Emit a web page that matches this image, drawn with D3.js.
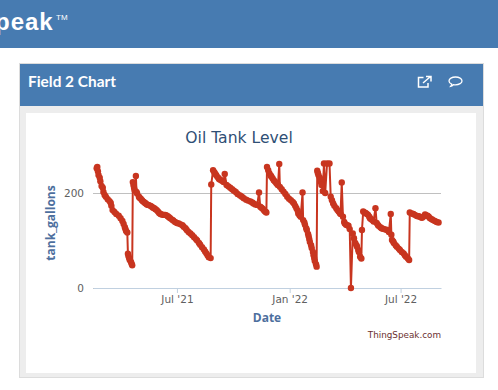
<!DOCTYPE html>
<html>
<head>
<meta charset="utf-8">
<script src="https://cdn.jsdelivr.net/npm/d3@7"></script>
<style>
  html, body { margin: 0; padding: 0; background: #fff; overflow: hidden; }
  svg { display: block; }
  text { font-family: "DejaVu Sans", sans-serif; }
</style>
</head>
<body>
<svg id="chart" width="498" height="390"></svg>
<script>
const dates = [
  "2021-02-20","2021-02-21","2021-02-22","2021-02-23","2021-02-25","2021-02-26","2021-02-28","2021-03-02","2021-03-03","2021-03-05",
  "2021-03-07","2021-03-10","2021-03-13","2021-03-15","2021-03-16","2021-03-18","2021-03-21","2021-03-24","2021-03-28","2021-03-31",
  "2021-04-03","2021-04-05","2021-04-07","2021-04-08","2021-04-09","2021-04-11","2021-04-12","2021-04-13","2021-04-14","2021-04-15",
  "2021-04-17","2021-04-18","2021-04-19","2021-04-20","2021-04-21","2021-04-22","2021-04-23","2021-04-25","2021-04-26","2021-04-27",
  "2021-04-30","2021-05-01","2021-05-03","2021-05-05","2021-05-06","2021-05-08","2021-05-10","2021-05-11","2021-05-13","2021-05-15",
  "2021-05-17","2021-05-19","2021-05-21","2021-05-23","2021-05-25","2021-05-27","2021-05-29","2021-05-31","2021-06-02","2021-06-04",
  "2021-06-06","2021-06-08","2021-06-10","2021-06-12","2021-06-14","2021-06-16","2021-06-18","2021-06-20","2021-06-23","2021-06-25",
  "2021-06-28","2021-07-01","2021-07-04","2021-07-07","2021-07-10","2021-07-12","2021-07-15","2021-07-17","2021-07-20","2021-07-23",
  "2021-07-26","2021-07-29","2021-08-01","2021-08-03","2021-08-06","2021-08-08","2021-08-11","2021-08-14","2021-08-16","2021-08-18",
  "2021-08-20","2021-08-22","2021-08-25","2021-08-26","2021-08-29","2021-08-31","2021-09-01","2021-09-03","2021-09-05","2021-09-07",
  "2021-09-08","2021-09-11","2021-09-13","2021-09-15","2021-09-17","2021-09-20","2021-09-23","2021-09-26","2021-09-29","2021-10-02",
  "2021-10-05","2021-10-08","2021-10-12","2021-10-15","2021-10-18","2021-10-22","2021-10-25","2021-10-29","2021-11-01","2021-11-03",
  "2021-11-06","2021-11-09","2021-11-12","2021-11-14","2021-11-16","2021-11-18","2021-11-20","2021-11-21","2021-11-23","2021-11-24",
  "2021-11-25","2021-11-27","2021-11-29","2021-12-01","2021-12-02","2021-12-04","2021-12-06","2021-12-08","2021-12-10","2021-12-12",
  "2021-12-13","2021-12-15","2021-12-16","2021-12-19","2021-12-22","2021-12-25","2021-12-28","2021-12-31","2022-01-03","2022-01-06",
  "2022-01-08","2022-01-10","2022-01-12","2022-01-14","2022-01-15","2022-01-17","2022-01-19","2022-01-22","2022-01-23","2022-01-25",
  "2022-01-26","2022-01-28","2022-01-29","2022-01-31","2022-02-01","2022-02-02","2022-02-03","2022-02-05","2022-02-06","2022-02-08",
  "2022-02-09","2022-02-10","2022-02-11","2022-02-13","2022-02-14","2022-02-15","2022-02-16","2022-02-17","2022-02-19","2022-02-20",
  "2022-02-21","2022-02-22","2022-02-24","2022-02-26","2022-02-28","2022-03-03","2022-03-07","2022-03-09","2022-03-11","2022-03-13",
  "2022-03-15","2022-03-18","2022-03-20","2022-03-22","2022-03-24","2022-03-25","2022-03-27","2022-03-29","2022-03-31","2022-04-01",
  "2022-04-03","2022-04-05","2022-04-07","2022-04-09","2022-04-11","2022-04-14","2022-04-16","2022-04-18","2022-04-20","2022-04-21",
  "2022-04-23","2022-04-24","2022-04-26","2022-04-28","2022-04-29","2022-05-01","2022-05-03","2022-05-05","2022-05-07","2022-05-09",
  "2022-05-11","2022-05-12","2022-05-14","2022-05-16","2022-05-18","2022-05-21","2022-05-23","2022-05-25","2022-05-26","2022-05-29",
  "2022-05-31","2022-06-02","2022-06-04","2022-06-07","2022-06-09","2022-06-12","2022-06-15","2022-06-16","2022-06-17","2022-06-19",
  "2022-06-20","2022-06-23","2022-06-25","2022-06-28","2022-06-30","2022-07-03","2022-07-06","2022-07-08","2022-07-10","2022-07-13",
  "2022-07-15","2022-07-16","2022-07-19","2022-07-22","2022-07-24","2022-07-27","2022-07-29","2022-07-31","2022-08-03","2022-08-05",
  "2022-08-07","2022-08-10","2022-08-12","2022-08-14","2022-08-16","2022-08-18","2022-08-21","2022-08-23","2022-08-26","2022-08-29",
  "2022-09-01"
];
const gallons = [
  252,255,246,238,232,225,215,211,202,196,
  192,187,183,179,173,164,160,156,152,147,
  141,135,128,124,120,117,72,67,63,59,
  55,51,48,223,217,211,206,236,202,199,
  192,190,188,185,183,181,179,178,176,175,
  174,173,171,169,168,166,164,161,158,156,
  155,154,154,154,153,151,149,147,144,142,
  139,137,136,134,132,129,126,122,118,115,
  111,107,103,100,95,91,86,81,77,73,
  69,65,63,218,248,244,241,238,234,231,
  229,227,226,223,240,217,214,211,208,205,
  202,198,195,192,189,186,184,182,180,178,
  176,175,201,171,169,167,164,162,160,159,
  255,248,241,237,235,231,227,224,221,218,
  217,261,213,208,203,198,192,188,185,181,
  178,173,168,163,157,153,150,201,143,138,
  133,126,122,114,109,103,97,90,84,76,
  69,63,57,50,45,247,242,238,233,229,
  223,217,204,262,200,262,262,192,185,178,
  173,168,164,161,158,156,222,150,139,136,
  133,132,131,124,0,115,105,95,90,87,
  80,76,66,62,122,161,159,158,156,154,
  150,147,145,143,140,168,137,133,131,128,
  126,125,124,123,122,118,156,112,101,98,
  95,90,87,83,80,76,73,69,66,62,
  59,159,157,156,154,152,151,151,149,148,
  150,155,153,152,150,147,145,143,141,139,
  138
];
const xDomain = ["2021-02-14", "2022-09-05"];
const xTicks = ["2021-07-01", "2022-01-01", "2022-07-01"];
const xTickLabels = ["Jul '21", "Jan '22", "Jul '22"];
const yTicks = [0, 200];

const blue = "#477bb1";
const red = "#c8351f";
const svg = d3.select("#chart");

// page chrome
svg.append("rect").attr("width", 498).attr("height", 48).attr("fill", blue);
svg.append("text").attr("x", -5).attr("y", 30)
  .attr("fill", "#fff").style("font-family", "Liberation Sans").style("font-weight", 700).style("font-size", "24px")
  .style("letter-spacing", "1px").text("peak");
svg.append("text").attr("x", 56).attr("y", 20)
  .attr("fill", "#fff").style("font-family", "Liberation Sans").style("font-size", "8px")
  .text("TM");

svg.append("rect").attr("x", 19.5).attr("y", 63.5).attr("width", 464).attr("height", 314)
  .attr("fill", "#ededed").attr("stroke", "#dcdcdc");
svg.append("rect").attr("x", 20).attr("y", 64).attr("width", 463).attr("height", 42).attr("fill", blue);
svg.append("rect").attr("x", 26).attr("y", 113).attr("width", 450).attr("height", 260).attr("fill", "#fff");
svg.append("text").attr("x", 28).attr("y", 87)
  .attr("fill", "#fff").style("font-family", "Lato").style("font-weight", 700).style("font-size", "15.400px")
  .text("Field 2 Chart");

// header icons
const icons = svg.append("g").attr("fill", "none").attr("stroke", "#fff").attr("stroke-width", 1.5);
icons.append("path").attr("d", "M428 83v4h-9.500v-9.500h5");
icons.append("path").attr("d", "M423 83l7-6M426 76.500h5v5");
icons.append("path").attr("stroke-width", 1.3).attr("d", "M455.500 77c3.600 0 6.500 1.700 6.500 3.900s-2.900 3.900-6.500 3.900c-.8 0-1.500-.1-2.200-.2-.5 1-1.500 1.500-2.600 1.700.5-.6.9-1.400.9-2.300-1.600-.7-2.600-1.800-2.600-3.100 0-2.200 2.900-3.900 6.500-3.900z");

// scales
const x = d3.scaleUtc().domain(xDomain.map(d => new Date(d))).range([93, 441]);
const y = d3.scaleLinear().domain([0, 200]).range([288, 193]);

const yAxis = d3.axisLeft(y).tickValues(yTicks).tickSize(0).tickPadding(9);
const yG = svg.append("g").attr("transform", "translate(93,0)").call(yAxis);
yG.select(".domain").remove();
yG.selectAll("text").attr("fill", "#606060").style("font-family", "DejaVu Sans").style("font-size", "10.500px");
yG.selectAll(".tick line").attr("x2", 348).attr("stroke", "#c0c0c0");

const labelByTime = new Map(xTicks.map((d, i) => [+new Date(d), xTickLabels[i]]));
const xAxis = d3.axisBottom(x).tickValues(xTicks.map(d => new Date(d)))
  .tickSize(5).tickSizeOuter(0).tickPadding(3).tickFormat(d => labelByTime.get(+d));
const xG = svg.append("g").attr("transform", "translate(0,288)").call(xAxis);
xG.select(".domain").attr("stroke", "#c0d0e0");
xG.selectAll(".tick line").attr("stroke", "#c0d0e0");
xG.selectAll("text").attr("fill", "#606060").style("font-family", "DejaVu Sans").style("font-size", "10.500px");

// series
const points = dates.map((d, i) => ({ date: new Date(d), value: gallons[i] }));
const line = d3.line().x(d => x(d.date)).y(d => y(d.value));
svg.append("path").datum(points).attr("d", line)
  .attr("fill", "none").attr("stroke", red).attr("stroke-width", 2).attr("stroke-linejoin", "round");
svg.append("g").selectAll("circle").data(points).join("circle")
  .attr("cx", d => x(d.date)).attr("cy", d => y(d.value)).attr("r", 3.2).attr("fill", red);

// titles
svg.append("text").attr("x", 239).attr("y", 143).attr("text-anchor", "middle")
  .attr("fill", "#2f4f75").style("font-size", "15.600px").text("Oil Tank Level");
svg.append("text").attr("x", 267).attr("y", 322).attr("text-anchor", "middle")
  .attr("fill", "#4d6f9e").style("font-family", "Open Sans").style("font-weight", 700).style("font-size", "12px").text("Date");
svg.append("text").attr("transform", "translate(55,223) rotate(-90)").attr("text-anchor", "middle")
  .attr("fill", "#4d6f9e").style("font-family", "Open Sans").style("font-weight", 700).style("font-size", "12px").text("tank_gallons");
svg.append("text").attr("x", 441).attr("y", 338).attr("text-anchor", "end")
  .attr("fill", "#6b3030").style("font-size", "8.800px").text("ThingSpeak.com");
</script>
</body>
</html>
